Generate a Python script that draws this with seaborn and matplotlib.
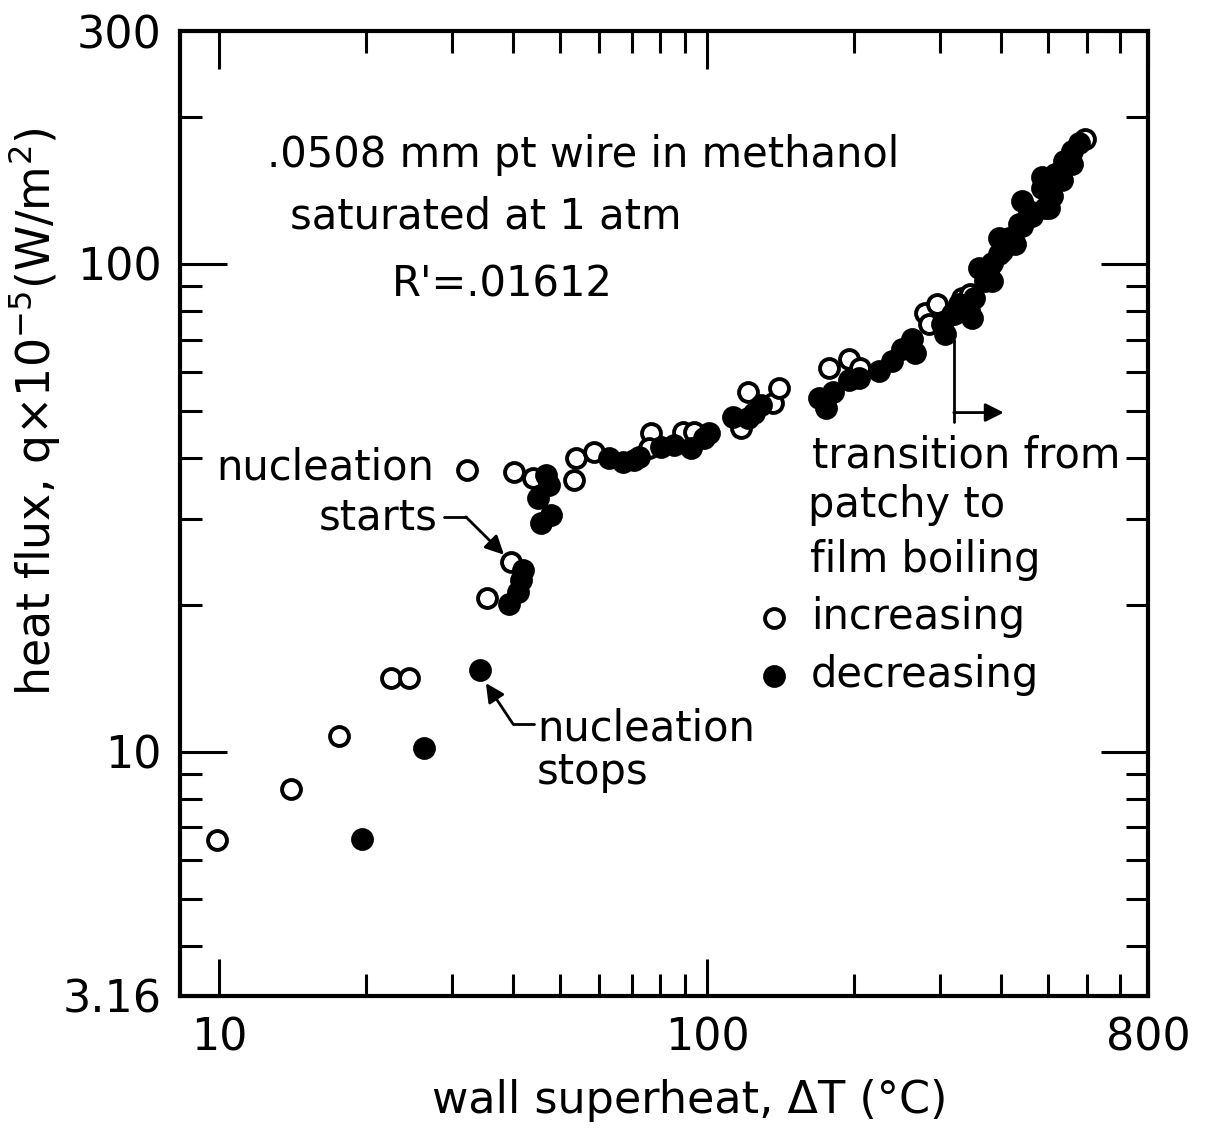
import pandas as pd
import matplotlib
matplotlib.use('Agg')
import matplotlib.pyplot as plt
import seaborn as sns
from matplotlib.ticker import NullFormatter

# ---- DATA ----
# increasing heat flux (open circles)
inc_dt = [9.9, 14.05, 17.55, 22.45, 24.44, 32.15, 35.34, 39.6, 40.2, 43.9,
          53.8, 53.3, 58.6, 76.7, 76.0, 89.3, 94.0, 117.5, 121.4, 136.6,
          140.5, 178.0, 194.8, 205.2, 279.0, 295.3, 284.3, 332.4, 345.1, 594.4]
inc_q = [6.61, 8.40, 10.78, 14.16, 14.16, 37.8, 20.72, 24.54, 37.45, 36.41,
         40.0, 36.07, 41.15, 44.99, 41.93, 45.2, 45.2, 46.06, 54.54, 51.8,
         55.58, 61.34, 63.99, 61.34, 79.43, 82.86, 75.44, 85.23, 86.84, 180.7]

# decreasing heat flux (filled circles)
dec_dt = [19.57, 26.24, 34.2, 39.2, 40.9, 41.5, 41.9, 45.6, 47.8, 45.0,
          47.4, 46.7, 62.9, 67.2, 70.8, 72.5, 80.4, 85.5, 92.7, 98.6,
          100.9, 113.1, 121.4, 124.9, 129.1, 169.8, 175.5, 181.4, 194.8, 204.2,
          224.5, 238.7, 250.2, 262.4, 266.2, 302.3, 306.6, 317.0, 320.0, 327.7,
          343.6, 348.4, 352.0, 360.2, 370.6, 377.6, 383.0, 395.9, 395.9, 415.0,
          426.9, 435.1, 441.4, 456.1, 485.1, 485.1, 492.0, 501.4, 515.8, 533.3,
          538.3, 559.0, 559.0, 577.9, 383.0, 401.6, 441.4, 462.6, 508.6, 525.7,
          546.0]
dec_q = [6.64, 10.19, 14.7, 20.05, 21.31, 22.55, 23.63, 29.47, 30.6, 33.14,
         35.24, 36.93, 40.0, 39.26, 39.63, 40.19, 42.12, 42.52, 41.93, 43.94,
         44.99, 48.51, 48.28, 49.43, 51.32, 53.03, 50.6, 54.54, 57.71, 58.26,
         60.49, 63.39, 67.07, 70.3, 65.82, 75.44, 71.97, 79.07, 79.07, 82.86,
         80.18, 77.59, 85.0, 98.13, 92.33, 98.13, 92.33, 104.8, 113.0, 113.0,
         109.9, 120.7, 134.5, 128.3, 142.9, 150.5, 130.1, 130.1, 152.7, 148.4,
         162.3, 160.0, 170.1, 176.6, 100.5, 106.3, 119.6, 125.3, 137.7, 149.1,
         162.3]

x_ticks = [10, 100, 800]
x_ticklabels = ["10", "100", "800"]
y_ticks = [3.16, 10, 100, 300]
y_ticklabels = ["3.16", "10", "100", "300"]
x_minor = [20, 30, 40, 50, 60, 70, 80, 90, 200, 300, 400, 500, 600, 700]
y_minor = [4, 5, 6, 7, 8, 9, 20, 30, 40, 50, 60, 70, 80, 90, 200]

inc = pd.DataFrame({"dT": inc_dt, "q": inc_q})
dec = pd.DataFrame({"dT": dec_dt, "q": dec_q})

# ---- FIGURE ----
sns.set_style("ticks")
plt.rcParams['font.family'] = ['DejaVu Sans']
for k in ["text.color", "axes.labelcolor", "xtick.color", "ytick.color", "axes.edgecolor"]:
    plt.rcParams[k] = "black"

fig = plt.figure(figsize=(12.16, 11.31), dpi=100)
ax = fig.add_axes([0.148, 0.1194, 0.796, 0.853])

sns.scatterplot(data=inc, x="dT", y="q", marker="o", s=185, color="white",
                edgecolor="black", linewidth=2.8, label="increasing", ax=ax, zorder=3)
sns.scatterplot(data=dec, x="dT", y="q", marker="o", s=185, color="black",
                edgecolor="black", linewidth=2.8, label="decreasing", ax=ax, zorder=4)

ax.set_xscale("log")
ax.set_yscale("log")
ax.set_xlim(8.3, 800)
ax.set_ylim(3.16, 300)

ax.set_xticks(x_ticks, labels=x_ticklabels)
ax.set_yticks(y_ticks, labels=y_ticklabels)
ax.set_xticks(x_minor, minor=True)
ax.set_yticks(y_minor, minor=True)
ax.xaxis.set_minor_formatter(NullFormatter())
ax.yaxis.set_minor_formatter(NullFormatter())

ax.tick_params(axis="both", which="both", direction="in", top=True, right=True,
               width=2.2, labelsize=32, colors="black")
ax.tick_params(axis="x", which="major", length=27, pad=15)
ax.tick_params(axis="y", which="major", length=34, pad=13)
ax.tick_params(axis="both", which="minor", length=16)
for sp in ax.spines.values():
    sp.set_linewidth(3)
    sp.set_visible(True)
    sp.set_color("black")

ax.set_xlabel("wall superheat, \u0394T (\u00b0C)", fontsize=32)
ax.set_ylabel("heat flux, q$\\times$10$^{-5}$(W/m$^{2}$)", fontsize=33)
ax.xaxis.set_label_coords(0.527, -0.086)
ax.yaxis.set_label_coords(-0.122, 0.606)

# ---- TEXTS ----
fs = 30
ax.text(0.416, 0.859, ".0508 mm pt wire in methanol", transform=ax.transAxes,
        ha="center", va="baseline", fontsize=fs)
ax.text(0.316, 0.796, "saturated at 1 atm", transform=ax.transAxes,
        ha="center", va="baseline", fontsize=fs)
ax.text(0.333, 0.725, "R'=.01612", transform=ax.transAxes,
        ha="center", va="baseline", fontsize=fs)
ax.text(0.263, 0.535, "nucleation", transform=ax.transAxes,
        ha="right", va="baseline", fontsize=fs)
ax.text(0.266, 0.483, "starts", transform=ax.transAxes,
        ha="right", va="baseline", fontsize=fs)
ax.text(0.369, 0.265, "nucleation", transform=ax.transAxes,
        ha="left", va="baseline", fontsize=fs)
ax.text(0.369, 0.220, "stops", transform=ax.transAxes,
        ha="left", va="baseline", fontsize=fs)
ax.text(0.653, 0.548, "transition from", transform=ax.transAxes,
        ha="left", va="baseline", fontsize=fs)
ax.text(0.649, 0.496, "patchy to", transform=ax.transAxes,
        ha="left", va="baseline", fontsize=fs)
ax.text(0.651, 0.439, "film boiling", transform=ax.transAxes,
        ha="left", va="baseline", fontsize=fs)

# ---- LEADERS / ARROWS ----
arrow = dict(arrowstyle="-|>", color="black", lw=2, mutation_scale=28,
             shrinkA=0, shrinkB=0)
# nucleation starts
ax.plot([28.84, 32.0], [30.31, 30.31], color="black", lw=2)
ax.annotate("", xy=(38.3, 25.36), xytext=(32.0, 30.31), arrowprops=arrow)
# nucleation stops
ax.plot([44.13, 39.96], [11.41, 11.41], color="black", lw=2)
ax.annotate("", xy=(35.17, 13.83), xytext=(39.96, 11.41), arrowprops=arrow)
# transition
ax.plot([320.0, 320.0], [70.0, 47.4], color="black", lw=2)
ax.annotate("", xy=(405.3, 49.6), xytext=(320.0, 49.6), arrowprops=arrow)

# ---- LEGEND ----
ax.legend(loc="center left", bbox_to_anchor=(0.596, 0.363), frameon=False,
          fontsize=fs, handlelength=0.8, handletextpad=0.5, labelspacing=0.38,
          borderpad=0, borderaxespad=0)

fig.savefig("out.png", dpi=100)
